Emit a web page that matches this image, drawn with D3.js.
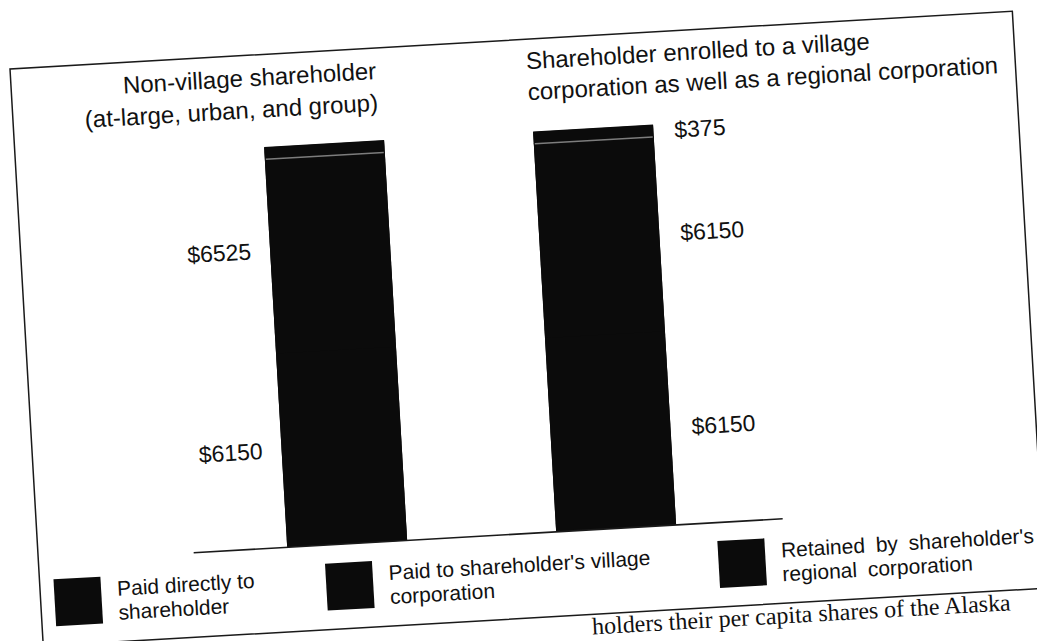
<!DOCTYPE html>
<html>
<head>
<meta charset="utf-8">
<script src="https://cdn.jsdelivr.net/npm/d3@7"></script>
<style>
  body { margin: 0; background: #fff; }
  svg { display: block; }
</style>
</head>
<body>
<div id="chart"></div>
<script>
// data
const shareholderTypes = ["Non-village", "Village and regional"];
const titleNonVillage = ["Non-village shareholder", "(at-large, urban, and group)"];
const titleVillage = ["Shareholder enrolled to a village", "corporation as well as a regional corporation"];
const seriesKeys = ["direct", "village", "regional"];
const seriesNames = [
    ["Paid directly to", "shareholder"],
    ["Paid to shareholder's village", "corporation"],
    ["Retained by shareholder's", "regional corporation"]
];
const paidDirect = [6150, 6150];
const paidVillage = [0, 6150];
const retainedRegional = [6525, 375];
const labelSide = ["left", "right"];
const captionText = "holders their per capita shares of the Alaska";

let rows = shareholderTypes.map((t, i) => ({
    type: t,
    direct: paidDirect[i],
    village: paidVillage[i],
    regional: retainedRegional[i],
    total: paidDirect[i] + paidVillage[i] + retainedRegional[i]
}));

let stacked = d3.stack().keys(seriesKeys)(rows);

let fullWidth = 1037, fullHeight = 641;
let frameW = 1004, frameH = 578;

let root = d3.select("#chart")
    .append("svg")
    .attr("width", fullWidth)
    .attr("height", fullHeight);

// the page was scanned at a slight tilt
let svg = root.append("g")
    .attr("transform", "translate(10,69) rotate(-3.3)")
    .style("font-family", "'Liberation Sans', Arial, Helvetica, sans-serif")
    .style("fill", "#111");

svg.append("rect")
    .attr("x", 0).attr("y", 0)
    .attr("width", frameW).attr("height", frameH)
    .attr("fill", "none")
    .attr("stroke", "#1a1a1a")
    .attr("stroke-width", 1.5);

let x = d3.scaleBand()
    .domain(shareholderTypes)
    .range([155, 745])
    .paddingInner(0.554)
    .paddingOuter(0.372)
    .align(0.47);

let y = d3.scaleLinear()
    .domain([0, d3.max(rows, d => d.total)])
    .range([493, 93]);

// all three fills print as near-black in the original
let color = d3.scaleOrdinal()
    .domain(seriesKeys)
    .range(["#0b0b0b", "#0b0b0b", "#0b0b0b"]);

// whole-bar backing so the segment joins don't show a seam
svg.selectAll(".bar-back")
    .data(rows)
    .join("rect")
    .attr("class", "bar-back")
    .attr("x", d => x(d.type))
    .attr("y", d => y(d.total))
    .attr("width", x.bandwidth())
    .attr("height", d => y(0) - y(d.total))
    .attr("fill", "#0b0b0b");

// stacked segments
svg.append("g")
    .selectAll("g")
    .data(stacked)
    .join("g")
    .attr("fill", d => color(d.key))
    .selectAll("rect")
    .data(d => d.filter(s => s[1] > s[0]))
    .join("rect")
    .attr("x", d => x(d.data.type))
    .attr("y", d => y(d[1]) - 0.5)
    .attr("width", x.bandwidth())
    .attr("height", d => y(d[0]) - y(d[1]) + 1);

// faint light band near the top of each bar (print artefact)
svg.selectAll(".band")
    .data(rows)
    .join("line")
    .attr("class", "band")
    .attr("x1", d => x(d.type) + 1)
    .attr("x2", d => x(d.type) + x.bandwidth() - 1)
    .attr("y1", d => y(d.total - retainedRegional[1]))
    .attr("y2", d => y(d.total - retainedRegional[1]))
    .attr("stroke", "#9a9a9a")
    .attr("stroke-width", 1.5)
    .attr("opacity", 0.8);

// baseline
let axis = svg.append("g")
    .attr("transform", `translate(0,${y(0)})`)
    .call(d3.axisBottom(x).tickSize(0).tickSizeOuter(0).tickFormat(""));
axis.selectAll(".tick").remove();
axis.select(".domain")
    .attr("stroke", "#1a1a1a")
    .attr("stroke-width", 1.6);

// value labels
let labels = [];
stacked.forEach(layer => {
    layer.forEach((s, i) => {
        if (s[1] > s[0]) labels.push({ type: s.data.type, side: labelSide[i], v0: s[0], v1: s[1] });
    });
});

svg.selectAll(".value-label")
    .data(labels)
    .join("text")
    .attr("class", "value-label")
    .attr("x", d => d.side === "left" ? x(d.type) - 19 : x(d.type) + x.bandwidth() + 21)
    .attr("y", d => y((d.v0 + d.v1) / 2))
    .attr("dy", "0.35em")
    .attr("text-anchor", d => d.side === "left" ? "end" : "start")
    .style("font-size", "23px")
    .text(d => "$" + (d.v1 - d.v0));

// column titles
svg.append("text")
    .attr("text-anchor", "end")
    .style("font-size", "24px")
    .selectAll("tspan")
    .data(titleNonVillage)
    .join("tspan")
    .attr("x", x(shareholderTypes[0]) + x.bandwidth() - 4)
    .attr("y", (d, i) => 31 + i * 32)
    .text(d => d);

svg.append("text")
    .attr("text-anchor", "start")
    .style("font-size", "24px")
    .selectAll("tspan")
    .data(titleVillage)
    .join("tspan")
    .attr("x", x(shareholderTypes[1]) - 3)
    .attr("y", (d, i) => 30 + i * 31)
    .text(d => d);

// legend
let legendX = [14, 286, 679];
let legend = svg.selectAll(".legend")
    .data(seriesKeys)
    .join("g")
    .attr("class", "legend")
    .attr("transform", (d, i) => `translate(${legendX[i]},512)`);

legend.append("rect")
    .attr("width", 47)
    .attr("height", 47)
    .attr("fill", d => color(d));

legend.append("text")
    .style("font-size", "21px")
    .style("word-spacing", (d, i) => i === 2 ? "5px" : "0px")
    .selectAll("tspan")
    .data((d, i) => seriesNames[i])
    .join("tspan")
    .attr("x", 63)
    .attr("y", (d, i) => 20 + i * 24)
    .text(d => d);

// caption line of the page below the figure
svg.append("text")
    .attr("x", 549)
    .attr("y", 598)
    .style("font-family", "'Liberation Serif', 'Times New Roman', serif")
    .style("font-size", "24px")
    .text(captionText);
</script>
</body>
</html>
